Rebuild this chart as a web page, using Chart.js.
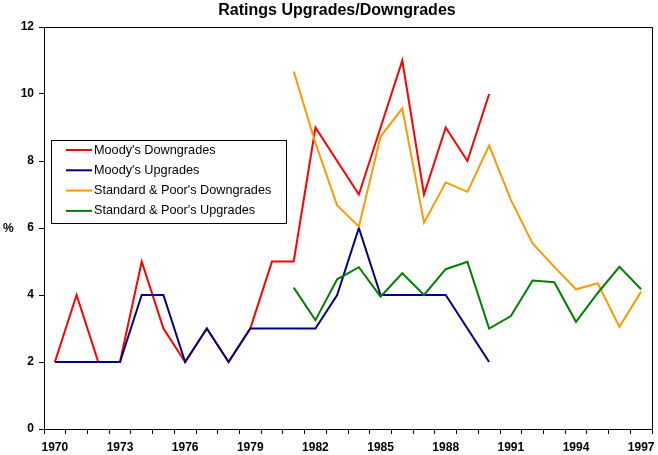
<!DOCTYPE html>
<html>
<head>
<meta charset="utf-8">
<script src="https://cdn.jsdelivr.net/npm/chart.js@4"></script>
<style>
html,body{margin:0;padding:0;background:#fff;}
#wrap{width:658px;height:455px;position:relative;}
</style>
</head>
<body>
<div id="wrap"><canvas id="c" width="658" height="455"></canvas></div>
<script>
const chartTitle = "Ratings Upgrades/Downgrades";
const yAxisLabel = "%";
const years = ["1970","1971","1972","1973","1974","1975","1976","1977","1978","1979",
  "1980","1981","1982","1983","1984","1985","1986","1987","1988","1989",
  "1990","1991","1992","1993","1994","1995","1996","1997"];
const moodysDowngrades = [2,4,2,2,5,3,2,3,2,3,5,5,9,8,7,9,11,7,9,8,10,null,null,null,null,null,null,null];
const moodysUpgrades = [2,2,2,2,4,4,2,3,2,3,3,3,3,4,6,4,4,4,4,3,2,null,null,null,null,null,null,null];
const spDowngrades = [null,null,null,null,null,null,null,null,null,null,null,
  10.67,8.54,6.67,6.04,8.73,9.57,6.16,7.36,7.08,8.46,6.84,5.54,4.84,4.17,4.35,3.05,4.10];
const spUpgrades = [null,null,null,null,null,null,null,null,null,null,null,
  4.22,3.25,4.47,4.83,3.95,4.65,4.00,4.77,4.99,3.00,3.37,4.43,4.38,3.20,4.06,4.84,4.17];
const seriesNames = ["Moody's Downgrades","Moody's Upgrades","Standard & Poor's Downgrades","Standard & Poor's Upgrades"];
const seriesColors = ["#FF0000","#000080","#FF9900","#008000"];
const yTicks = {min:0, max:12, step:2};
const labelEvery = 3;

const FONT = "'Liberation Sans', Arial, sans-serif";

const decorPlugin = {
  id: 'decor',
  afterDraw(chart) {
    const ctx = chart.ctx;
    const a = chart.chartArea;
    ctx.save();
    // frame
    ctx.strokeStyle = '#000';
    ctx.lineWidth = 1;
    ctx.strokeRect(Math.round(a.left)+0.5, Math.round(a.top)+0.5, Math.round(a.right-a.left), Math.round(a.bottom-a.top));
    // title
    ctx.fillStyle = '#000';
    ctx.font = 'bold 16px ' + FONT;
    ctx.textAlign = 'center';
    ctx.textBaseline = 'middle';
    ctx.fillText(chartTitle, 337, 11);
    // y label
    ctx.font = 'bold 12px ' + FONT;
    ctx.textAlign = 'left';
    ctx.fillText(yAxisLabel, 3, 229);
    // legend
    const bx = 51, by = 140, bw = 235, bh = 83;
    ctx.fillStyle = '#fff';
    ctx.fillRect(bx, by, bw, bh);
    ctx.strokeStyle = '#000';
    ctx.strokeRect(bx+0.5, by+0.5, bw, bh);
    ctx.font = '12.7px ' + FONT;
    chart.data.datasets.forEach((ds, i) => {
      const yy = 150 + i*20.3;
      ctx.strokeStyle = ds.borderColor;
      ctx.lineWidth = 2;
      ctx.beginPath();
      ctx.moveTo(66, yy);
      ctx.lineTo(92, yy);
      ctx.stroke();
      ctx.fillStyle = '#000';
      ctx.textBaseline = 'middle';
      ctx.fillText(ds.label, 94, yy);
    });
    ctx.restore();
  }
};

const datasetValues = [moodysDowngrades, moodysUpgrades, spDowngrades, spUpgrades];
const datasets = datasetValues.map((vals, i) => ({
  label: seriesNames[i],
  data: vals,
  borderColor: seriesColors[i],
  backgroundColor: seriesColors[i],
  borderWidth: 2,
  pointRadius: 0,
  pointHoverRadius: 0,
  tension: 0,
  spanGaps: false,
  fill: false,
  order: datasetValues.length - i
}));

new Chart(document.getElementById('c'), {
  type: 'line',
  data: { labels: years, datasets },
  options: {
    responsive: false,
    animation: false,
    devicePixelRatio: 1,
    layout: { padding: { top: 27, right: 6, left: 0, bottom: 0 } },
    plugins: { legend: { display: false }, title: { display: false }, tooltip: { enabled: false } },
    scales: {
      x: {
        type: 'category',
        offset: true,
        grid: { display: true, offset: true, drawOnChartArea: false, drawTicks: true, tickLength: 5, color: '#000', tickColor: '#000' },
        border: { display: true, color: '#000', width: 1 },
        ticks: {
          autoSkip: false, maxRotation: 0, minRotation: 0, padding: 6,
          color: '#000', font: { family: FONT, size: 12, weight: 'bold' },
          callback: function(v, idx) { return idx % labelEvery === 0 ? this.getLabelForValue(v) : ''; }
        },
        afterFit(scale) { scale.height = 26; scale.paddingLeft = 0; scale.paddingRight = 0; }
      },
      y: {
        min: yTicks.min, max: yTicks.max,
        grid: { display: true, drawOnChartArea: false, drawTicks: true, tickLength: 5, color: '#000', tickColor: '#000' },
        border: { display: true, color: '#000', width: 1 },
        ticks: { stepSize: yTicks.step, padding: 5, color: '#000', font: { family: FONT, size: 12, weight: 'bold' } },
        afterFit(scale) { scale.width = 44; scale.paddingTop = 0; scale.paddingBottom = 0; }
      }
    }
  },
  plugins: [decorPlugin]
});
</script>
</body>
</html>
